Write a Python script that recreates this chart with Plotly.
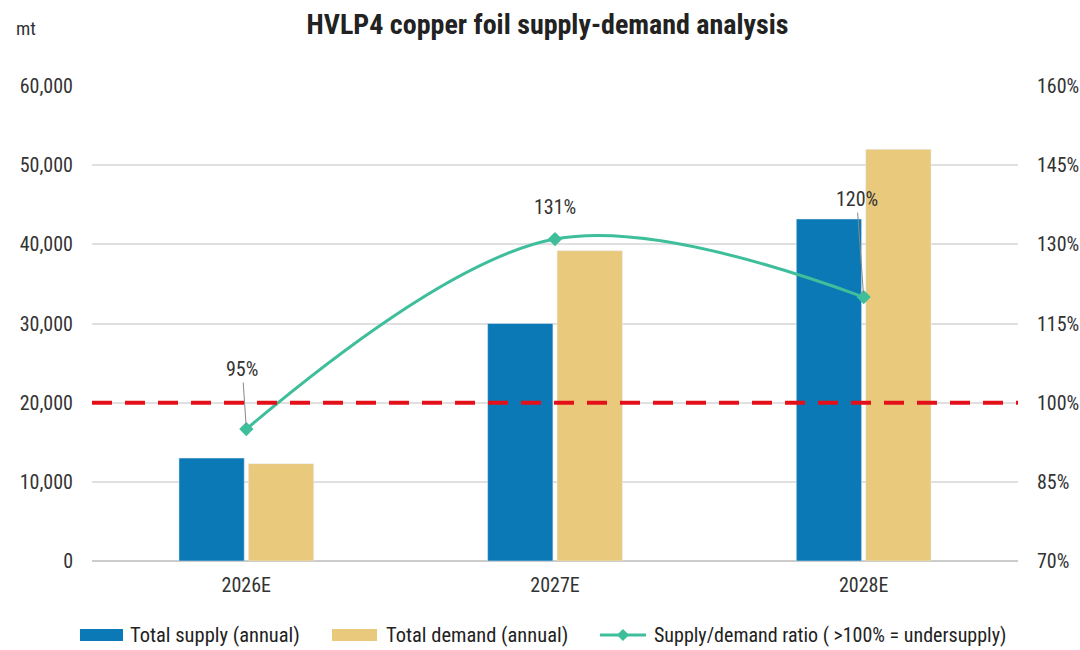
import plotly.graph_objects as go

years = ['2026E', '2027E', '2028E']
supply = [13000, 30000, 43200]
demand = [12300, 39200, 52000]
ratio = [95, 131, 120]
ratio_labels = ['95%', '131%', '120%']

names = ['Total supply (annual)', 'Total demand (annual)',
         'Supply/demand ratio ( >100% = undersupply)']
c_supply, c_demand, c_ratio = '#0B79B5', '#E9C97C', '#3EBE9B'

font_fam = "Roboto Condensed, DejaVu Sans Condensed, Liberation Sans Narrow, sans-serif"

fig = go.Figure()
fig.add_trace(go.Bar(x=years, y=supply, name=names[0], marker_color=c_supply))
fig.add_trace(go.Bar(x=years, y=demand, name=names[1], marker_color=c_demand))
fig.add_trace(go.Scatter(x=years, y=ratio, yaxis='y2', mode='lines+markers', name=names[2],
                         line=dict(color=c_ratio, width=3, shape='spline', smoothing=1.0),
                         marker=dict(symbol='diamond', size=11, color=c_ratio)))

# 100% reference line (same as 20,000 on the left axis)
fig.add_shape(type='line', xref='paper', x0=0, x1=1, yref='y2', y0=100, y1=100,
              line=dict(color='#E3101A', width=4, dash='20px,13px'))

# ratio labels, two of them pulled off with a thin leader line
offsets = [(-4, -60), (0, -32), (-7, -98)]
for i in range(len(years)):
    dx, dy = offsets[i]
    if i == 1:
        fig.add_annotation(x=years[i], y=ratio[i], yref='y2', text=ratio_labels[i],
                           showarrow=False, yshift=-dy,
                           font=dict(size=20, color='#333333', family=font_fam))
    else:
        fig.add_annotation(x=years[i], y=ratio[i], yref='y2', text=ratio_labels[i],
                           showarrow=True, arrowhead=0, arrowwidth=1, arrowcolor='#888888',
                           ax=dx, ay=dy, standoff=4,
                           font=dict(size=20, color='#333333', family=font_fam))

fig.add_annotation(text='mt', xref='paper', yref='paper', x=-0.0713, y=1.122,
                   xanchor='center', yanchor='middle', showarrow=False,
                   font=dict(size=19, color='#333333', family=font_fam))

# hand-made legend with wide swatches like the original
ly = -0.1558
fig.add_shape(type='rect', xref='paper', yref='paper', x0=-0.013, x1=0.0335,
              y0=-0.1684, y1=-0.1432, fillcolor=c_supply, line_width=0)
fig.add_shape(type='rect', xref='paper', yref='paper', x0=0.2592, x1=0.3078,
              y0=-0.1684, y1=-0.1432, fillcolor=c_demand, line_width=0)
fig.add_shape(type='line', xref='paper', yref='paper', x0=0.5486, x1=0.5983,
              y0=ly, y1=ly, line=dict(color=c_ratio, width=3))
mx, dxp, dyp = 0.5734, 0.0065, 0.0126
fig.add_shape(type='path', xref='paper', yref='paper', fillcolor=c_ratio, line_width=0,
              path=f'M {mx-dxp},{ly} L {mx},{ly+dyp} L {mx+dxp},{ly} L {mx},{ly-dyp} Z')
for tx, name, fs in zip([0.0389, 0.3153, 0.6048], names, [20.5, 20.5, 20]):
    fig.add_annotation(text=name, xref='paper', yref='paper', x=tx, y=ly,
                       xanchor='left', yanchor='middle', showarrow=False,
                       font=dict(size=fs, color='#222222', family=font_fam))

fig.update_layout(
    width=1080, height=650,
    paper_bgcolor='white', plot_bgcolor='white',
    showlegend=False,
    margin=dict(l=92, r=62, t=86, b=89, autoexpand=False),
    title=dict(text='<b>HVLP4 copper foil supply-demand analysis</b>', x=0.507, xanchor='center',
               y=0.963, yanchor='middle', font=dict(size=28, color='#222222', family=font_fam)),
    font=dict(family=font_fam, size=18, color='#333333'),
    barmode='group', bargap=0.55, bargroupgap=0.06,
    xaxis=dict(showgrid=False, showline=False, ticks='', tickfont=dict(size=20),
               ticklabelstandoff=10, automargin=False),
    yaxis=dict(range=[0, 60000], dtick=10000, tickformat=',', gridcolor='#E0E0E0',
               gridwidth=1.5, zeroline=True, zerolinecolor='#CCCCCC', zerolinewidth=1.5,
               tickfont=dict(size=20), ticklabelstandoff=18, automargin=False),
    yaxis2=dict(range=[70, 160], tick0=70, dtick=15, ticksuffix='%', overlaying='y', side='right',
                showgrid=False, zeroline=False, tickfont=dict(size=20), ticklabelstandoff=18,
                automargin=False),
)

fig.write_html("out.html", config={'displayModeBar': False},
               post_script="document.body.style.margin='0px';")
